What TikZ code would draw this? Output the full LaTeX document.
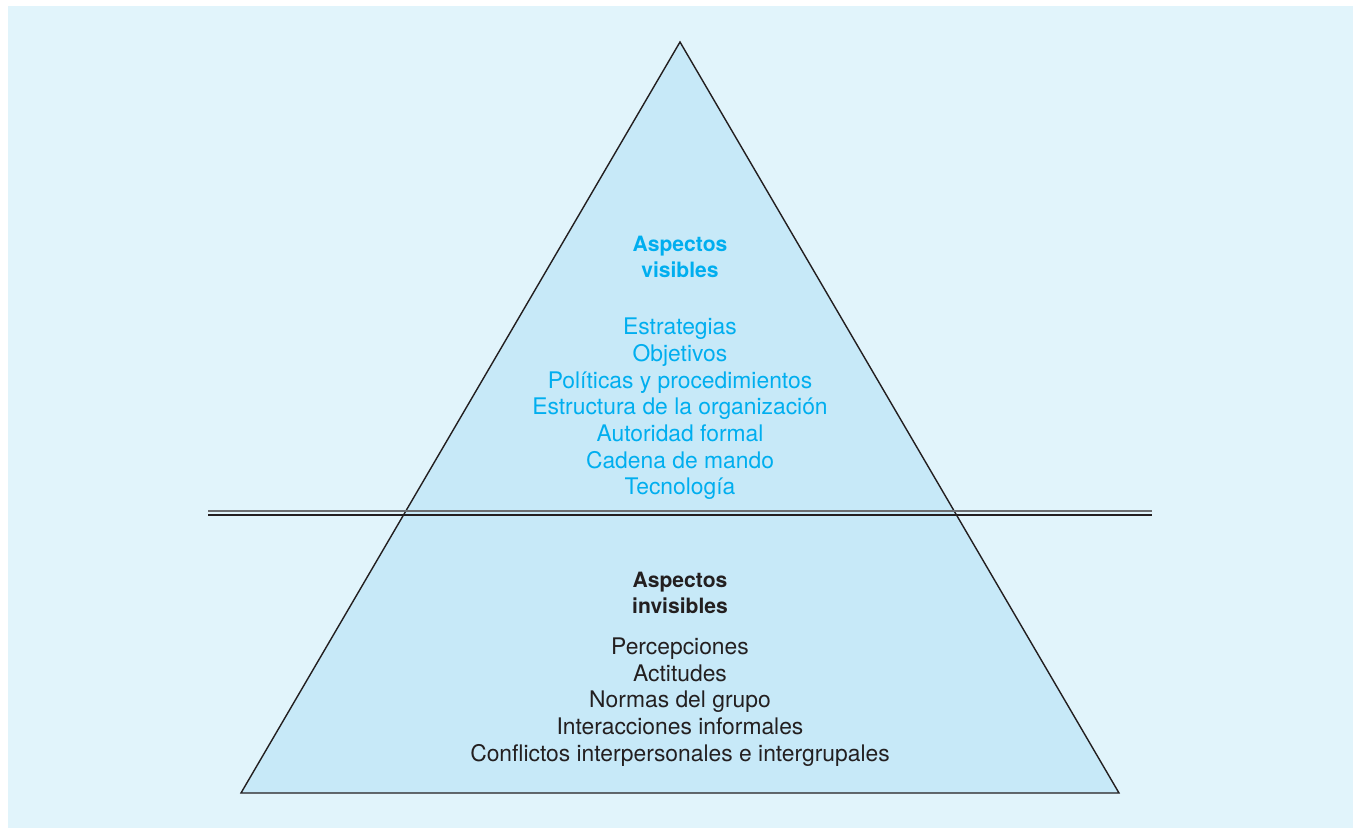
\documentclass[tikz,border=0pt]{standalone}
\usepackage{fontspec}
\setmainfont{TeX Gyre Heros}
\definecolor{bgblue}{HTML}{E1F4FB}
\definecolor{pyrblue}{HTML}{C7E9F8}
\definecolor{cyantext}{HTML}{00AEEF}
\definecolor{darktext}{HTML}{231F20}
\definecolor{linegray}{HTML}{6D6E71}
\tikzset{
  heading/.style={align=center, inner sep=0pt, font=\fontsize{12}{15.2}\selectfont\bfseries},
  items/.style={align=center, inner sep=0pt, font=\fontsize{13}{15.2}\selectfont}
}
\begin{document}
\begin{tikzpicture}[x=0.02cm, y=-0.02cm]
  \useasboundingbox (0,0) rectangle (1357,828);
  \fill[bgblue] (8,6) rectangle (1353,828);

  % pyramid
  \coordinate (apex) at (680,42);
  \coordinate (bl) at (241,793);
  \coordinate (br) at (1119,793);
  \filldraw[fill=pyrblue, draw=darktext, line width=0.8pt, line join=miter] (apex) -- (bl) -- (br) -- cycle;

  % dividing double line
  \draw[linegray, line width=0.8pt] (208,511) -- (1152,511);
  \draw[darktext, line width=0.8pt] (208,515) -- (1152,515);

  % visible part
  \node[heading, text=cyantext] (vishead) at (680,257) {Aspectos\\visibles};
  \node[items, text=cyantext] (vislist) at (680,409) {Estrategias\\Objetivos\\Políticas y procedimientos\\Estructura de la organización\\Autoridad formal\\Cadena de mando\\Tecnología};

  % invisible part
  \node[heading, text=darktext] (invhead) at (680,593) {Aspectos\\invisibles};
  \node[items, text=darktext] (invlist) at (680,702) {Percepciones\\Actitudes\\Normas del grupo\\Interacciones informales\\Conflictos interpersonales e intergrupales};
\end{tikzpicture}
\end{document}
